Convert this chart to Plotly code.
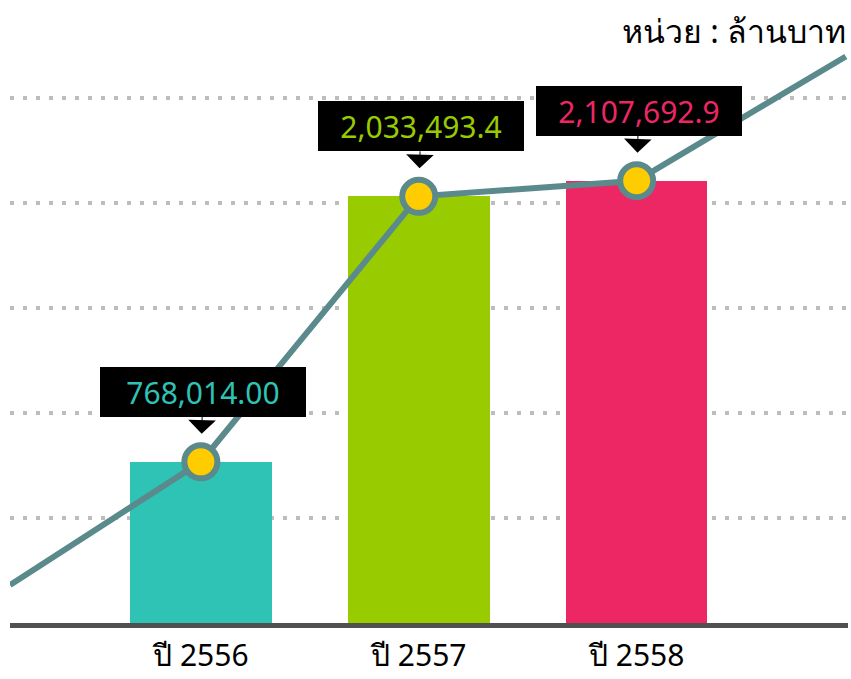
import plotly.graph_objects as go

# Data
categories = ["ปี 2556", "ปี 2557", "ปี 2558"]
values = [768014.00, 2033493.4, 2107692.9]
value_labels = ["768,014.00", "2,033,493.4", "2,107,692.9"]
bar_colors = ["#2FC3B5", "#99CC00", "#EC2763"]
# trend line incl. its extension beyond the first and last bars
trend_x = [-0.876, 0, 1, 2, 2.96]
trend_y = [181000, 768014.00, 2033493.4, 2107692.9, 2700000]
unit_text = "หน่วย : ล้านบาท"

xpos = list(range(len(categories)))
font_family = "Noto Sans, Tahoma, sans-serif"

fig = go.Figure()
fig.add_trace(go.Bar(x=xpos, y=values, width=0.65, marker=dict(color=bar_colors, line=dict(width=0)),
                     hoverinfo="skip", showlegend=False))
fig.add_trace(go.Scatter(x=trend_x, y=trend_y, mode="lines",
                         line=dict(color="#5B8A8C", width=6), hoverinfo="skip", showlegend=False))
fig.add_trace(go.Scatter(x=xpos, y=values, mode="markers",
                         marker=dict(size=33, color="#FFCC00", line=dict(color="#5B8A8C", width=6)),
                         hoverinfo="skip", showlegend=False))

for i, (v, lab, c) in enumerate(zip(values, value_labels, bar_colors)):
    fig.add_annotation(x=i, y=v, text=lab, showarrow=True, ax=2, ay=-70,
                       arrowhead=1, arrowsize=4.6, arrowwidth=1, arrowcolor="black", standoff=28,
                       bgcolor="black", bordercolor="black", borderwidth=0, borderpad=3,
                       width=200, height=44,
                       font=dict(family=font_family, size=30, color=c))

fig.add_annotation(xref="paper", yref="paper", x=1.0, y=1.0, xanchor="right", yanchor="middle",
                   yshift=16, text=unit_text, showarrow=False,
                   font=dict(family=font_family, size=32, color="black"))

fig.update_layout(
    width=851, height=679,
    margin=dict(l=10, r=3, t=46, b=56, autoexpand=False),
    paper_bgcolor="white", plot_bgcolor="white",
    xaxis=dict(range=[-0.876, 2.97], tickvals=xpos, ticktext=categories, showgrid=False,
               zeroline=False, showline=True, linecolor="#505050", linewidth=5,
               ticks="", tickfont=dict(family=font_family, size=30, color="black"),
               ticklabelstandoff=2, automargin=False),
    yaxis=dict(range=[0, 2750000], dtick=500000, showticklabels=False, zeroline=False,
               showgrid=True, gridcolor="#BDBDBD", gridwidth=4, griddash="4px,9px",
               automargin=False),
    bargap=0,
)

fig.write_html("out.html", config={"displayModeBar": False},
               post_script="document.body.style.margin='0';")
